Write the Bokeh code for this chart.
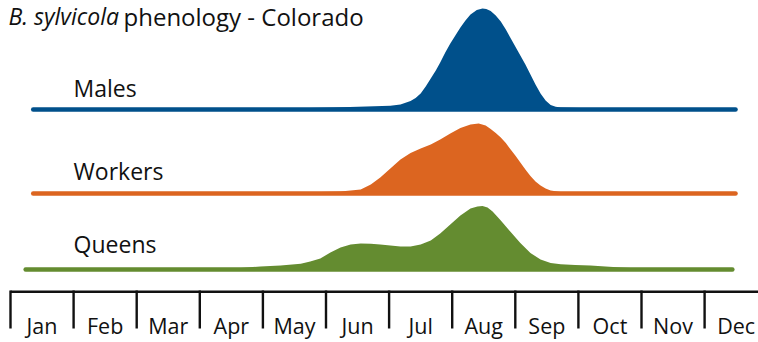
from bokeh.plotting import figure
from bokeh.models import Range1d
from bokeh.core.properties import value
from bokeh.embed import file_html
from bokeh.resources import INLINE

# ---------------- data (x in months from 1 Jan; heights = relative abundance) ----------------
MONTHS = ["Jan", "Feb", "Mar", "Apr", "May", "Jun", "Jul", "Aug", "Sep", "Oct", "Nov", "Dec"]
MONTH_EDGES = list(range(0, 13))
MONTH_CENTERS = [i + 0.5 for i in range(12)]

males_x = [0.36, 3.01, 3.96, 5.12, 6.02, 6.18, 6.34, 6.42, 6.50, 6.58, 6.66, 6.74, 6.81, 6.89,
           6.97, 7.05, 7.13, 7.21, 7.29, 7.39, 7.48, 7.54, 7.61, 7.69, 7.77, 7.85, 7.92, 8.00,
           8.08, 8.16, 8.24, 8.32, 8.40, 8.48, 8.56, 8.64, 8.72, 9.35, 10.14, 11.49]
males_h = [0, 0.2, 0.6, 2, 3.7, 5, 8.5, 11.5, 16, 23, 31, 39, 47, 57,
           66, 74, 82, 89, 95, 99.5, 101, 100.5, 98.5, 94, 88, 80, 72, 63,
           54, 45, 35, 25, 16, 9, 4.5, 2.8, 2, 1, 0.5, 0]

workers_x = [0.36, 3.80, 4.60, 5.23, 5.55, 5.71, 5.86, 6.02, 6.18, 6.34, 6.50, 6.66, 6.81, 6.97,
             7.13, 7.29, 7.42, 7.53, 7.61, 7.69, 7.77, 7.85, 7.92, 8.00, 8.08, 8.16, 8.24, 8.32,
             8.40, 8.48, 8.56, 8.72, 9.35, 10.14, 11.49]
workers_h = [0, 0.3, 1, 2, 4, 9, 16, 25, 34, 40.5, 45, 49, 54, 60,
             65.5, 69, 70, 68, 64.5, 60.5, 56, 50.5, 44.5, 38, 31, 24, 17.5, 12,
             8, 5, 3, 1.5, 1, 0.5, 0]

queens_x = [0.24, 3.01, 3.65, 3.96, 4.28, 4.60, 4.75, 4.91, 5.07, 5.23, 5.39, 5.55, 5.71, 5.86,
            6.02, 6.18, 6.34, 6.50, 6.66, 6.81, 6.97, 7.13, 7.29, 7.40, 7.48, 7.56, 7.64, 7.77,
            7.92, 8.08, 8.24, 8.40, 8.56, 8.72, 8.95, 9.19, 9.43, 9.67, 10.14, 11.44]
queens_h = [0, 0.5, 1.5, 3, 4, 5.7, 8, 11, 17, 22, 25, 26, 25.7, 25,
            24, 23, 23, 25, 29, 36, 45, 54, 61, 63, 63.5, 62, 58, 49,
            38, 26.5, 16.5, 10, 6.5, 5.3, 4.6, 4, 3, 2, 0.5, 0]

SERIES = ["Males", "Workers", "Queens"]
COLORS = ["#00508b", "#dc6520", "#648c30"]

TITLE_ITALIC = "B. sylvicola"
TITLE_REST = "phenology - Colorado"

# ---------------- layout (vertical units = pixels from the bottom of the picture) ----------------
BASES = [233, 149, 73]
LABEL_OFFSETS = [21.7, 22.7, 25.7]
AXIS_Y = 50.7
TICK_BOTTOM = 14
MONTH_LABEL_Y = 17
TITLE_Y = 326.1

p = figure(width=758, height=342, output_backend="svg", toolbar_location=None,
           x_range=Range1d(-10 / 63.1, 748 / 63.1), y_range=Range1d(0, 342),
           x_axis_location=None, y_axis_location=None, min_border=0)
p.grid.visible = False
p.outline_line_color = None
p.background_fill_color = "white"
p.border_fill_color = "white"

for name, xs, hs, base, col, off in zip(SERIES, [males_x, workers_x, queens_x],
                                        [males_h, workers_h, queens_h], BASES, COLORS, LABEL_OFFSETS):
    p.varea(x=xs, y1=base, y2=[base + h for h in hs], fill_color=col)
    p.line(x=[xs[0], xs[-1]], y=[base, base], line_color=col, line_width=4.5, line_cap="round")
    p.text(x=[1.0], y=[base + off], text=[name], text_font=value("Open Sans"),
           text_font_size="23px", text_color="#111111", text_baseline="alphabetic")

# month axis
p.line(x=[MONTH_EDGES[0], MONTH_EDGES[-1]], y=[AXIS_Y, AXIS_Y], line_color="#111111", line_width=2.6)
p.segment(x0=MONTH_EDGES, y0=[AXIS_Y + 1.3] * 13, x1=MONTH_EDGES, y1=[TICK_BOTTOM] * 13,
          line_color="#111111", line_width=2.4)
p.text(x=MONTH_CENTERS, y=[MONTH_LABEL_Y] * 12, text=MONTHS, text_font=value("Open Sans"),
       text_font_size="21.5px", text_color="#111111", text_align="center", text_baseline="alphabetic")

# title
p.text(x=[-2 / 63.1], y=[TITLE_Y], text=[TITLE_ITALIC], text_font=value("Open Sans"),
       text_font_style="italic", text_font_size="23px", text_color="#111111", text_baseline="alphabetic")
p.text(x=[113 / 63.1], y=[TITLE_Y], text=[TITLE_REST], text_font=value("Open Sans"),
       text_font_size="24px", text_color="#111111", text_baseline="alphabetic")

open("out.html", "w").write(file_html(p, INLINE))
